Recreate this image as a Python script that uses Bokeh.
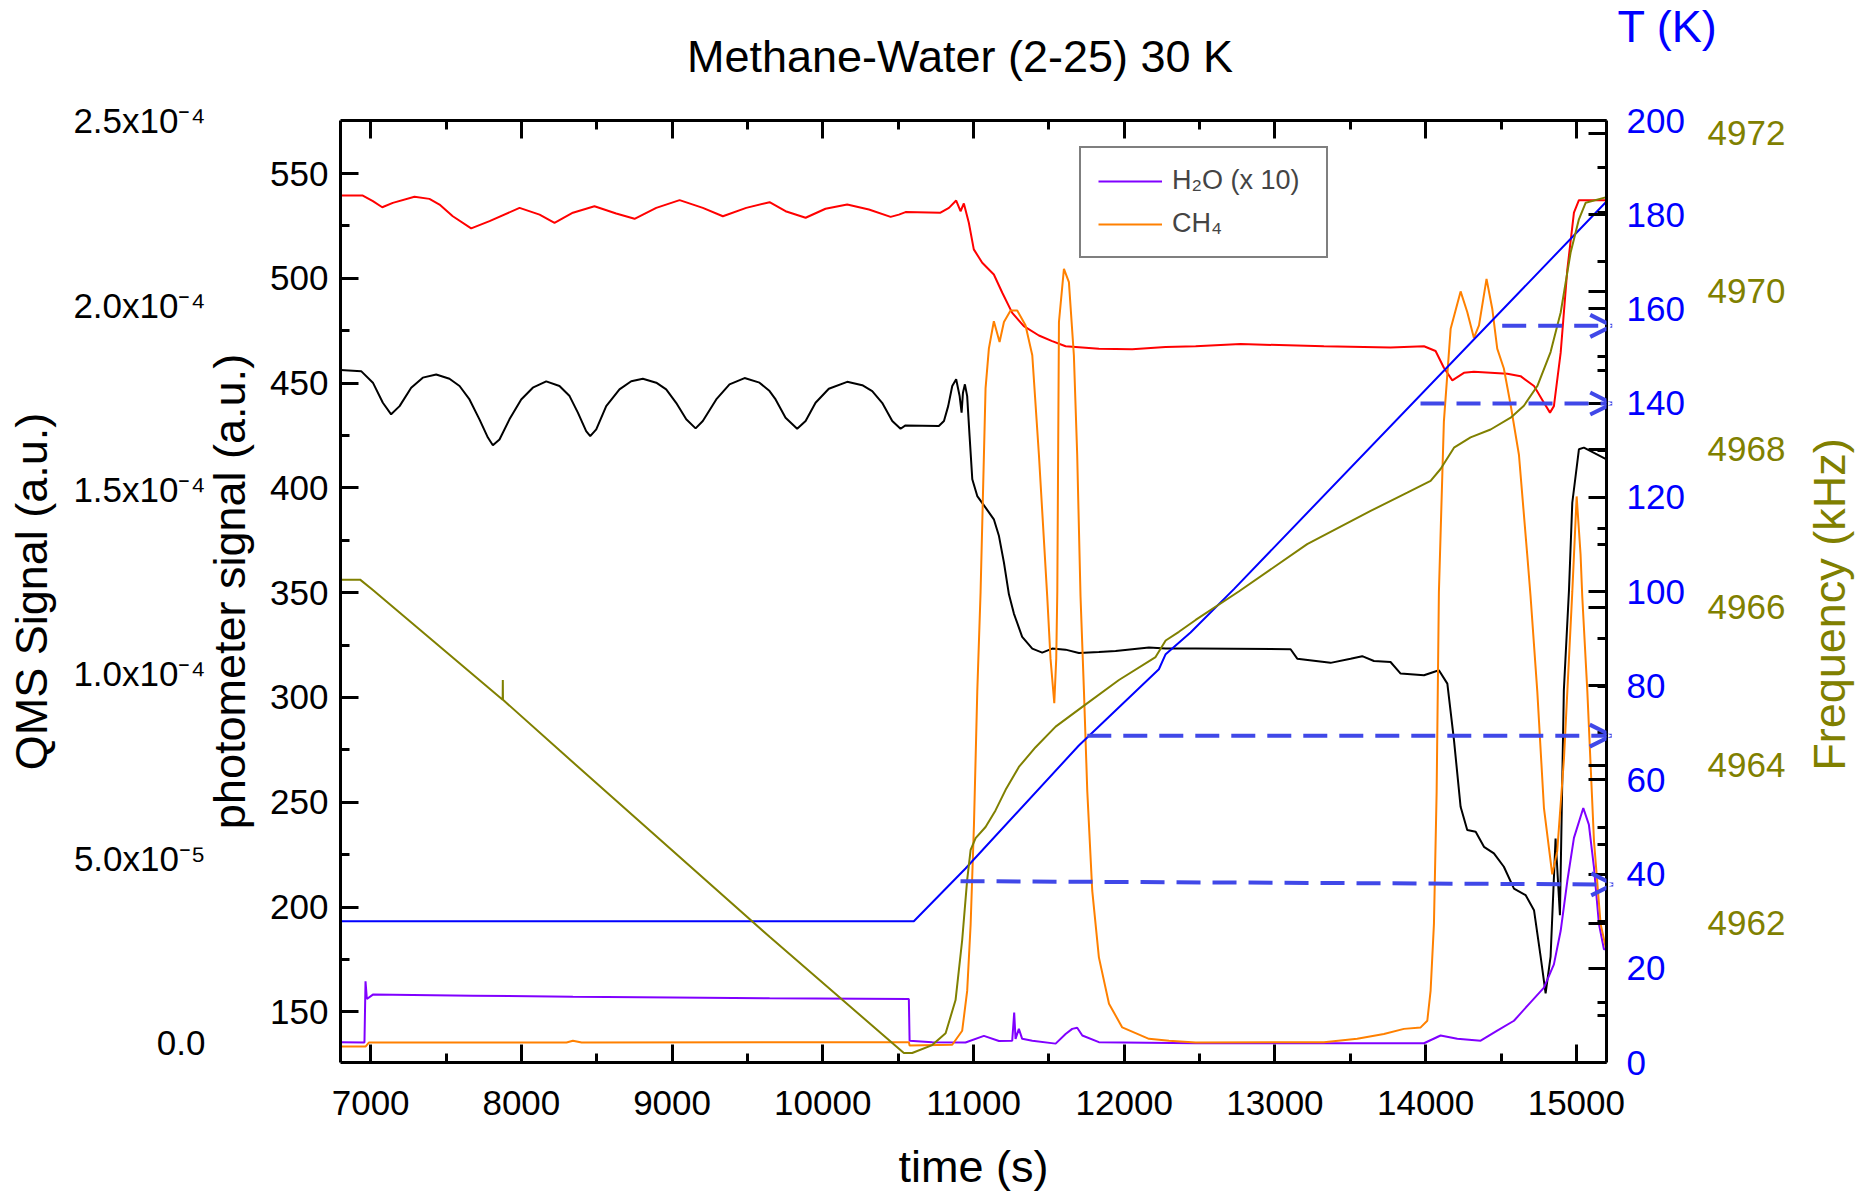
import math
from bokeh.plotting import figure
from bokeh.layouts import column, row
from bokeh.models import (Range1d, LinearAxis, FixedTicker, CustomJSTickFormatter, Label,
                          Arrow, OpenHead, Legend, LegendItem, ColumnDataSource)
from bokeh.embed import file_html
from bokeh.resources import INLINE

# ---------------------------------------------------------------- data
# photometer signal, red trace (a.u.)
red_time = [6800, 6948, 7015, 7077, 7147, 7291, 7390, 7457, 7545, 7667,
            7789, 7988, 8121, 8220, 8342, 8485, 8629, 8751, 8895, 9050,
            9204, 9337, 9492, 9647, 9753, 9886, 10018, 10162, 10306, 10450,
            10505, 10549, 10781, 10837, 10885, 10914, 10936, 10969, 11002, 11058,
            11135, 11191, 11257, 11334, 11434, 11522, 11611, 11832, 12053, 12274,
            12474, 12772, 13325, 13767, 13989, 14066, 14121, 14177, 14254, 14320,
            14542, 14630, 14719, 14785, 14825, 14851, 14896, 14940, 14984, 15017,
            15200]
red_signal = [539.5, 539.5, 536.8, 533.9, 536.0, 538.9, 537.9, 535.2, 529.6, 523.8,
              527.3, 533.6, 530.4, 526.5, 531.3, 534.4, 530.9, 528.4, 533.6, 537.3,
              533.6, 529.6, 533.6, 536.3, 532.0, 528.9, 533.2, 535.2, 532.8, 529.3,
              530.4, 531.6, 531.3, 533.6, 537.1, 532.0, 535.7, 526.5, 513.8, 507.4,
              501.8, 493.1, 483.5, 477.2, 472.7, 470.0, 467.6, 466.4, 466.1, 467.2,
              467.6, 468.6, 467.6, 467.0, 467.6, 465.3, 457.3, 451.3, 454.9, 455.4,
              454.5, 453.3, 448.6, 440.6, 435.9, 439.0, 464.5, 504.2, 531.3, 537.3,
              537.3]

# photometer signal, black trace (a.u.)
black_time = [6800, 6937, 7015, 7081, 7136, 7192, 7269, 7346, 7435, 7523,
              7590, 7656, 7722, 7778, 7811, 7855, 7921, 7999, 8076, 8165,
              8253, 8320, 8375, 8430, 8457, 8497, 8563, 8651, 8729, 8806,
              8895, 8961, 9027, 9094, 9156, 9204, 9293, 9381, 9481, 9580,
              9647, 9687, 9753, 9830, 9886, 9952, 10040, 10162, 10262, 10328,
              10394, 10461, 10516, 10549, 10770, 10804, 10832, 10859, 10885, 10908,
              10921, 10930, 10943, 10958, 10974, 10992, 11025, 11080, 11135, 11169,
              11202, 11235, 11268, 11323, 11390, 11456, 11522, 11611, 11699, 11832,
              11943, 12164, 12275, 12474, 13104, 13148, 13369, 13502, 13579, 13657,
              13767, 13834, 13989, 14088, 14144, 14188, 14232, 14276, 14332, 14387,
              14453, 14519, 14586, 14663, 14719, 14763, 14796, 14829, 14862, 14891,
              14917, 14951, 14973, 15017, 15050, 15200]
black_signal = [456.2, 455.7, 450.2, 440.6, 435.1, 439.0, 447.8, 452.6, 454.1, 452.1,
                448.6, 442.2, 432.7, 424.0, 420.3, 423.1, 432.7, 442.2, 447.8, 450.8,
                448.6, 443.8, 435.9, 427.1, 424.7, 427.9, 439.0, 447.0, 450.9, 452.1,
                450.2, 447.0, 440.6, 432.7, 428.4, 431.9, 442.2, 449.4, 452.4, 450.2,
                446.2, 442.2, 433.5, 428.2, 431.9, 440.6, 447.3, 450.6, 449.0, 446.2,
                440.6, 431.9, 428.2, 429.8, 429.5, 431.9, 439.0, 448.6, 451.8, 443.8,
                435.9, 445.4, 449.4, 443.8, 424.7, 404.1, 396.1, 390.6, 385.0, 377.0,
                364.3, 349.2, 340.0, 328.9, 323.3, 321.4, 323.3, 322.8, 321.2, 321.7,
                322.2, 323.8, 323.3, 323.3, 323.0, 318.5, 316.5, 318.5, 319.7, 317.4,
                316.9, 311.4, 310.6, 313.0, 306.6, 279.6, 247.8, 236.7, 235.9, 228.7,
                225.6, 219.2, 208.8, 205.7, 198.5, 176.3, 158.8, 176.3, 232.7, 196.1,
                303.4, 351.1, 392.9, 418.4, 419.2, 413.6]

# microbalance frequency (kHz)
freq_time = [6800, 6930, 7015, 7876, 7877, 7878, 8253, 9647, 10538, 10593,
             10726, 10815, 10881, 10925, 10958, 10981, 11014, 11080, 11146, 11213,
             11301, 11412, 11545, 11722, 11965, 12208, 12275, 12363, 12474, 12760,
             13214, 13635, 13878, 14033, 14099, 14188, 14298, 14431, 14564, 14652,
             14741, 14829, 14896, 14962, 15017, 15062, 15200]
freq_khz = [4966.35, 4966.35, 4966.22, 4964.83, 4965.08, 4964.83, 4964.19, 4961.83, 4960.36, 4960.36,
            4960.46, 4960.61, 4961.03, 4961.79, 4962.55, 4962.93, 4963.08, 4963.22, 4963.43, 4963.69,
            4963.98, 4964.23, 4964.49, 4964.74, 4965.08, 4965.37, 4965.58, 4965.69, 4965.84, 4966.20,
            4966.80, 4967.22, 4967.45, 4967.60, 4967.75, 4968.02, 4968.15, 4968.25, 4968.40, 4968.55,
            4968.80, 4969.23, 4969.73, 4970.49, 4970.91, 4971.12, 4971.19]

# substrate temperature (K)
temp_time = [6800, 10604, 10947, 11699, 12230, 12275, 12440, 12728, 15200]
temp_k = [30.0, 30.0, 41.2, 67.3, 83.5, 86.7, 91.3, 100.5, 182.8]

# QMS, H2O (x 10)
h2o_time = [6800, 6959, 6966, 6975, 7015, 7678, 8342, 9005, 9647, 10571,
            10576, 10726, 10947, 11069, 11169, 11257, 11270, 11279, 11301, 11323,
            11390, 11545, 11611, 11655, 11688, 11722, 11832, 12474, 13989, 14099,
            14210, 14365, 14475, 14586, 14696, 14785, 14851, 14896, 14940, 14984,
            15046, 15083, 15117, 15150, 15183, 15200]
h2o_qms = [1e-7, 0.0, 1.66e-5, 1.18e-5, 1.30e-5, 1.27e-5, 1.24e-5, 1.22e-5, 1.20e-5, 1.18e-5,
           5e-7, 1e-7, 0.0, 1.8e-6, 4e-7, 5e-7, 8.1e-6, 1.0e-6, 3.7e-6, 1.0e-6,
           5e-7, -3e-7, 2.3e-6, 3.7e-6, 4.0e-6, 1.9e-6, 1e-7, -2e-7, -2e-7, 1.9e-6,
           1.0e-6, 5e-7, 3.2e-6, 5.9e-6, 1.09e-5, 1.49e-5, 2.12e-5, 3.03e-5, 4.38e-5, 5.55e-5,
           6.36e-5, 5.91e-5, 4.74e-5, 3.21e-5, 2.53e-5, 2.53e-5]

# QMS, CH4
ch4_time = [6800, 6966, 6988, 8300, 8342, 8400, 10571, 10576, 10859, 10925,
            10958, 10981, 11003, 11025, 11047, 11080, 11102, 11135, 11173, 11202,
            11246, 11290, 11345, 11390, 11434, 11489, 11511, 11536, 11549, 11556,
            11567, 11600, 11633, 11666, 11688, 11710, 11733, 11755, 11788, 11832,
            11899, 11987, 12164, 12297, 12474, 13325, 13546, 13723, 13856, 13967,
            14011, 14033, 14055, 14073, 14088, 14121, 14166, 14232, 14276, 14320,
            14354, 14404, 14442, 14475, 14519, 14564, 14619, 14674, 14696, 14741,
            14785, 14840, 14873, 14918, 14951, 14973, 15002, 15028, 15039, 15073,
            15117, 15161, 15200]
ch4_qms = [-1.1e-6, -1.1e-6, 0.0, 0.0, 5e-7, 0.0, 1e-7, -8e-7, -6e-7, 3.2e-6,
           1.40e-5, 3.20e-5, 5.90e-5, 9.51e-5, 1.222e-4, 1.774e-4, 1.882e-4, 1.956e-4, 1.900e-4, 1.954e-4,
           1.985e-4, 1.985e-4, 1.945e-4, 1.864e-4, 1.594e-4, 1.211e-4, 1.041e-4, 9.20e-5, 1.041e-4, 1.222e-4,
           1.954e-4, 2.098e-4, 2.062e-4, 1.864e-4, 1.594e-4, 1.211e-4, 9.51e-5, 6.81e-5, 4.11e-5, 2.31e-5,
           1.05e-5, 4.1e-6, 1.0e-6, 5e-7, 0.0, 1e-7, 1.0e-6, 2.3e-6, 3.7e-6, 4.1e-6,
           5.9e-6, 1.41e-5, 3.21e-5, 6.81e-5, 1.222e-4, 1.684e-4, 1.936e-4, 2.037e-4, 1.981e-4, 1.911e-4,
           1.945e-4, 2.071e-4, 1.990e-4, 1.882e-4, 1.828e-4, 1.729e-4, 1.594e-4, 1.323e-4, 1.211e-4, 9.51e-5,
           6.36e-5, 4.56e-5, 5.19e-5, 7.71e-5, 1.041e-4, 1.222e-4, 1.481e-4, 1.323e-4, 1.211e-4, 9.51e-5,
           5.46e-5, 3.21e-5, 2.49e-5]

# dashed temperature markers (time in s, temperature in K)
marker_t_start = [14508, 13966, 11755, 10914]
marker_T_start = [156.4, 139.9, 69.4, 38.5]
marker_t_end = [15238, 15238, 15235, 15245]
marker_T_end = [156.4, 139.9, 69.4, 37.8]

# axis limits and ticks
time_limits = (6800, 15200)
photo_limits = (125.8, 575.3)
temp_limits = (0.0, 200.0)
freq_limits = (4960.24, 4972.16)
qms_limits = (-5.42e-6, 2.5005e-4)

time_ticks = [7000, 8000, 9000, 10000, 11000, 12000, 13000, 14000, 15000]
time_minor = [7500, 8500, 9500, 10500, 11500, 12500, 13500, 14500]
photo_ticks = [150, 200, 250, 300, 350, 400, 450, 500, 550]
photo_minor = [175, 225, 275, 325, 375, 425, 475, 525]
temp_ticks = [0, 20, 40, 60, 80, 100, 120, 140, 160, 180, 200]
temp_minor = [10, 30, 50, 70, 90, 110, 130, 150, 170, 190]
freq_ticks = [4962, 4964, 4966, 4968, 4970, 4972]
freq_minor = [4961, 4963, 4965, 4967, 4969, 4971]
qms_ticks = [0.0, 5e-5, 1e-4, 1.5e-4, 2e-4, 2.5e-4]
qms_labels = ["0.0", "5.0x10\u207b\u2075", "1.0x10\u207b\u2074", "1.5x10\u207b\u2074",
              "2.0x10\u207b\u2074", "2.5x10\u207b\u2074"]

assert len(red_time) == len(red_signal)
assert len(black_time) == len(black_signal)
assert len(freq_time) == len(freq_khz)
assert len(temp_time) == len(temp_k)
assert len(h2o_time) == len(h2o_qms)
assert len(ch4_time) == len(ch4_qms)

# ---------------------------------------------------------------- styling
FONT = "Liberation Sans"
TICK_FS, LABEL_FS = "35px", "45px"
RED, BLACK, OLIVE, BLUE = "#FF0000", "#000000", "#808000", "#0000FF"
VIOLET, ORANGE, MARKER = "#8000FF", "#FF8000", "#4048E8"

# page geometry: caption strips above, right of and below the chart
W, H = 1855, 1193
FRAME_L, FRAME_R, FRAME_T, FRAME_B = 340, 1606, 120, 1062
TOP_H, SIDE_W, BOTTOM_H = 84, 60, 61
CHART_W, CHART_H = W - SIDE_W, H - TOP_H - BOTTOM_H

p = figure(width=CHART_W, height=CHART_H,
           x_range=Range1d(*time_limits), y_range=Range1d(*photo_limits),
           output_backend="svg", toolbar_location=None,
           min_border_left=FRAME_L, min_border_right=CHART_W - FRAME_R,
           min_border_top=FRAME_T - TOP_H,
           min_border_bottom=TOP_H + CHART_H - FRAME_B)
p.title.visible = False
p.extra_y_ranges = {"T": Range1d(*temp_limits),
                    "F": Range1d(*freq_limits),
                    "Q": Range1d(*qms_limits)}
p.grid.visible = False
p.outline_line_color = None
p.background_fill_color = "white"
p.border_fill_color = "white"


def text_style(ax, label_color):
    ax.major_label_text_font = FONT
    ax.major_label_text_font_size = TICK_FS
    ax.major_label_text_color = label_color
    ax.axis_label_text_font = FONT
    ax.axis_label_text_font_size = LABEL_FS
    ax.axis_label_text_font_style = "normal"
    ax.axis_label_text_color = label_color


def frame_axis(ax, ticks, minor, label_color=BLACK):
    ax.ticker = FixedTicker(ticks=ticks, minor_ticks=minor)
    ax.axis_line_color = BLACK
    ax.axis_line_width = 3
    ax.major_tick_line_color = BLACK
    ax.minor_tick_line_color = BLACK
    ax.major_tick_line_width = 3
    ax.minor_tick_line_width = 3
    ax.major_tick_in = 18
    ax.major_tick_out = 0
    ax.minor_tick_in = 9
    ax.minor_tick_out = 0
    text_style(ax, label_color)


def label_only_axis(ax, ticks, label_color):
    ax.ticker = FixedTicker(ticks=ticks, minor_ticks=[])
    ax.axis_line_color = None
    ax.major_tick_line_color = None
    ax.minor_tick_line_color = None
    ax.major_tick_in = 0
    ax.major_tick_out = 0
    ax.minor_tick_in = 0
    ax.minor_tick_out = 0
    text_style(ax, label_color)


# bottom time axis (its caption sits in the strip below)
x_axis = p.below[0]
frame_axis(x_axis, time_ticks, time_minor)
x_axis.major_label_standoff = 28

# left photometer axis
y_axis = p.left[0]
frame_axis(y_axis, photo_ticks, photo_minor)
y_axis.axis_label = "photometer signal (a.u.)"
y_axis.major_label_standoff = 12
y_axis.axis_label_standoff = 12

# outer left QMS axis (labels only)
qms_axis = LinearAxis(y_range_name="Q")
label_only_axis(qms_axis, qms_ticks, BLACK)
qms_axis.major_label_overrides = dict(zip(qms_ticks, qms_labels))
qms_axis.axis_label = "QMS Signal (a.u.)"
qms_axis.major_label_standoff = -4
qms_axis.axis_label_standoff = 13
p.add_layout(qms_axis, "left")

# right temperature axis; it also carries the frequency tick marks
t_lo, t_hi = temp_limits
f_lo, f_hi = freq_limits


def freq_to_temp_scale(f):
    return t_lo + (f - f_lo) / (f_hi - f_lo) * (t_hi - t_lo)


temp_axis = LinearAxis(y_range_name="T")
frame_axis(temp_axis,
           temp_ticks + [freq_to_temp_scale(f) for f in freq_ticks],
           temp_minor + [freq_to_temp_scale(f) for f in freq_minor],
           label_color=BLUE)
temp_axis.formatter = CustomJSTickFormatter(code="""
    const k = Math.round(tick / 20);
    return Math.abs(tick - 20 * k) < 1e-6 ? String(20 * k) : "";
""")
temp_axis.major_label_standoff = 20
p.add_layout(temp_axis, "right")

# outer right frequency axis (labels only)
freq_axis = LinearAxis(y_range_name="F")
label_only_axis(freq_axis, freq_ticks, OLIVE)
freq_axis.major_label_standoff = 20
p.add_layout(freq_axis, "right")

# top frame axis: ticks only
top_axis = LinearAxis(formatter=CustomJSTickFormatter(code="return '';"))
frame_axis(top_axis, time_ticks, time_minor)
top_axis.major_label_text_font_size = "1px"
top_axis.major_label_standoff = 0
p.add_layout(top_axis, "above")

# ---------------------------------------------------------------- traces
LW = 2
p.line(red_time, red_signal, line_color=RED, line_width=LW)
p.line(black_time, black_signal, line_color=BLACK, line_width=LW)
r_h2o = p.line(h2o_time, h2o_qms, line_color=VIOLET, line_width=LW, y_range_name="Q")
r_ch4 = p.line(ch4_time, ch4_qms, line_color=ORANGE, line_width=LW, y_range_name="Q")
p.line(temp_time, temp_k, line_color=BLUE, line_width=LW, y_range_name="T")
p.line(freq_time, freq_khz, line_color=OLIVE, line_width=LW, y_range_name="F")

markers = ColumnDataSource(dict(x0=marker_t_start, y0=marker_T_start,
                                x1=marker_t_end, y1=marker_T_end))
p.add_layout(Arrow(source=markers, x_start="x0", y_start="y0", x_end="x1", y_end="y1",
                   y_range_name="T", line_color=MARKER, line_width=4, line_dash="24 12",
                   end=OpenHead(size=22, line_color=MARKER, line_width=4)))

# ---------------------------------------------------------------- legend
legend = Legend(items=[LegendItem(label="H\u2082O (x 10)", renderers=[r_h2o]),
                       LegendItem(label="CH\u2084", renderers=[r_ch4])],
                location=(739, 804), orientation="vertical",
                label_text_font=FONT, label_text_font_size="27px",
                glyph_width=64, glyph_height=28, label_height=28, label_width=137,
                label_standoff=10, spacing=12, padding=17, margin=0,
                border_line_color=BLACK, border_line_width=2,
                background_fill_color="white", background_fill_alpha=1.0)
p.add_layout(legend)


# ---------------------------------------------------------------- caption strips
def caption_strip(width, height):
    fig = figure(width=width, height=height, x_range=Range1d(0, width),
                 y_range=Range1d(0, height), output_backend="svg",
                 toolbar_location=None, x_axis_location=None, y_axis_location=None,
                 min_border=0)
    fig.title.visible = False
    fig.grid.visible = False
    fig.outline_line_color = None
    fig.background_fill_color = "white"
    fig.border_fill_color = "white"
    return fig


top_strip = caption_strip(W, TOP_H)
top_strip.add_layout(Label(x=959.5, y=TOP_H - 55.6, text="Methane-Water (2-25) 30 K",
                           text_font=FONT, text_font_size=LABEL_FS, text_color=BLACK,
                           text_align="center", text_baseline="middle"))
top_strip.add_layout(Label(x=1617, y=TOP_H - 26, text="T (K)",
                           text_font=FONT, text_font_size=LABEL_FS, text_color=BLUE,
                           text_align="left", text_baseline="middle"))

# rotated caption for the frequency axis; anchor chosen so that its centre
# lands at page y = 601.5 in this strip's layout
side_strip = caption_strip(SIDE_W, CHART_H)
side_strip.add_layout(Label(x=1829 - CHART_W, y=TOP_H + 1027 - 601.5,
                            text="Frequency (kHz)", text_font=FONT,
                            text_font_size=LABEL_FS, text_color=OLIVE,
                            text_align="center", text_baseline="middle",
                            angle=math.pi / 2))

bottom_strip = caption_strip(W, BOTTOM_H)
bottom_strip.add_layout(Label(x=(FRAME_L + FRAME_R) / 2, y=H - 1166, text="time (s)",
                              text_font=FONT, text_font_size=LABEL_FS, text_color=BLACK,
                              text_align="center", text_baseline="middle"))

page = column(top_strip, row(p, side_strip, spacing=0), bottom_strip, spacing=0)
open("out.html", "w").write(file_html(page, INLINE))
